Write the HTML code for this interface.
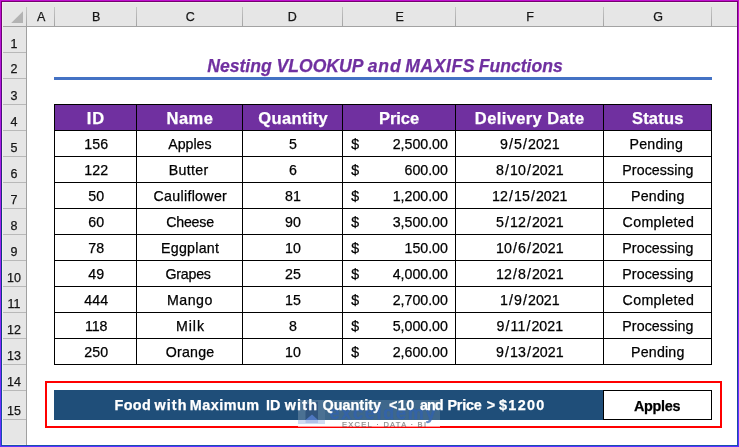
<!DOCTYPE html>
<html lang="en"><head><meta charset="utf-8"><title>Nesting VLOOKUP and MAXIFS Functions</title>
<style>
html,body{margin:0;padding:0;background:#fff;}
body{position:relative;width:739px;height:447px;overflow:hidden;font-family:"Liberation Sans", sans-serif;}
body>div,body>svg{position:absolute;box-sizing:border-box;}
.t{white-space:nowrap;line-height:20px;-webkit-text-stroke:0.25px currentColor;}
.sl{padding:0 1.1px;}
</style></head><body>
<div style="left:2px;top:2px;width:735px;height:24px;background:#e6e6e6;"></div>
<div style="left:2px;top:27px;width:24px;height:418px;background:#e6e6e6;"></div>
<div style="left:2px;top:26px;width:735px;height:1px;background:#a3a3a3;"></div>
<div style="left:26px;top:27px;width:1px;height:418px;background:#a0a0a0;"></div>
<div style="left:26px;top:7px;width:1px;height:19px;background:linear-gradient(to bottom,#c6c6c6,#a4a4a4);"></div>
<div style="left:54px;top:7px;width:1px;height:19px;background:linear-gradient(to bottom,#c6c6c6,#a4a4a4);"></div>
<div style="left:136px;top:7px;width:1px;height:19px;background:linear-gradient(to bottom,#c6c6c6,#a4a4a4);"></div>
<div style="left:242px;top:7px;width:1px;height:19px;background:linear-gradient(to bottom,#c6c6c6,#a4a4a4);"></div>
<div style="left:342px;top:7px;width:1px;height:19px;background:linear-gradient(to bottom,#c6c6c6,#a4a4a4);"></div>
<div style="left:455px;top:7px;width:1px;height:19px;background:linear-gradient(to bottom,#c6c6c6,#a4a4a4);"></div>
<div style="left:603px;top:7px;width:1px;height:19px;background:linear-gradient(to bottom,#c6c6c6,#a4a4a4);"></div>
<div style="left:711px;top:7px;width:1px;height:19px;background:linear-gradient(to bottom,#c6c6c6,#a4a4a4);"></div>
<div style="left:2px;top:52px;width:24px;height:1px;background:#b8b8b8;"></div>
<div style="left:2px;top:78px;width:24px;height:1px;background:#b8b8b8;"></div>
<div style="left:2px;top:104px;width:24px;height:1px;background:#b8b8b8;"></div>
<div style="left:2px;top:130px;width:24px;height:1px;background:#b8b8b8;"></div>
<div style="left:2px;top:156px;width:24px;height:1px;background:#b8b8b8;"></div>
<div style="left:2px;top:182px;width:24px;height:1px;background:#b8b8b8;"></div>
<div style="left:2px;top:208px;width:24px;height:1px;background:#b8b8b8;"></div>
<div style="left:2px;top:234px;width:24px;height:1px;background:#b8b8b8;"></div>
<div style="left:2px;top:260px;width:24px;height:1px;background:#b8b8b8;"></div>
<div style="left:2px;top:286px;width:24px;height:1px;background:#b8b8b8;"></div>
<div style="left:2px;top:312px;width:24px;height:1px;background:#b8b8b8;"></div>
<div style="left:2px;top:338px;width:24px;height:1px;background:#b8b8b8;"></div>
<div style="left:2px;top:364px;width:24px;height:1px;background:#b8b8b8;"></div>
<div style="left:2px;top:390px;width:24px;height:1px;background:#b8b8b8;"></div>
<div style="left:2px;top:419px;width:24px;height:1px;background:#b8b8b8;"></div>
<div style="left:2px;top:2px;width:735px;height:1px;background:#eef3ee;"></div>
<div style="left:2px;top:2px;width:1px;height:443px;background:#f0f1ec;"></div>
<div style="left:2px;top:444px;width:24px;height:1px;background:#f3f0ea;"></div>
<svg style="left:11px;top:11px" width="12" height="12" viewBox="0 0 12 12"><path d="M12 0.2 L12 12 L0.2 12 Z" fill="#b3b3b3"/></svg>
<div class="t" style="top:7.00px;font-size:12.5px;color:#161616;left:-258.80px;width:600px;text-align:center;">A</div>
<div class="t" style="top:7.00px;font-size:12.5px;color:#161616;left:-203.80px;width:600px;text-align:center;">B</div>
<div class="t" style="top:7.00px;font-size:12.5px;color:#161616;left:-109.80px;width:600px;text-align:center;">C</div>
<div class="t" style="top:7.00px;font-size:12.5px;color:#161616;left:-7.70px;width:600px;text-align:center;">D</div>
<div class="t" style="top:7.00px;font-size:12.5px;color:#161616;left:99.70px;width:600px;text-align:center;">E</div>
<div class="t" style="top:7.00px;font-size:12.5px;color:#161616;left:230.20px;width:600px;text-align:center;">F</div>
<div class="t" style="top:7.00px;font-size:12.5px;color:#161616;left:358.20px;width:600px;text-align:center;">G</div>
<div class="t" style="top:34.00px;font-size:12.5px;color:#161616;left:-286.00px;width:600px;text-align:center;">1</div>
<div class="t" style="top:59.00px;font-size:12.5px;color:#161616;left:-286.00px;width:600px;text-align:center;">2</div>
<div class="t" style="top:86.00px;font-size:12.5px;color:#161616;left:-286.00px;width:600px;text-align:center;">3</div>
<div class="t" style="top:112.00px;font-size:12.5px;color:#161616;left:-286.00px;width:600px;text-align:center;">4</div>
<div class="t" style="top:138.00px;font-size:12.5px;color:#161616;left:-286.00px;width:600px;text-align:center;">5</div>
<div class="t" style="top:164.00px;font-size:12.5px;color:#161616;left:-286.00px;width:600px;text-align:center;">6</div>
<div class="t" style="top:190.00px;font-size:12.5px;color:#161616;left:-286.00px;width:600px;text-align:center;">7</div>
<div class="t" style="top:216.00px;font-size:12.5px;color:#161616;left:-286.00px;width:600px;text-align:center;">8</div>
<div class="t" style="top:242.00px;font-size:12.5px;color:#161616;left:-286.00px;width:600px;text-align:center;">9</div>
<div class="t" style="top:268.00px;font-size:12.5px;color:#161616;left:-286.00px;width:600px;text-align:center;">10</div>
<div class="t" style="top:294.00px;font-size:12.5px;color:#161616;left:-286.00px;width:600px;text-align:center;">11</div>
<div class="t" style="top:320.00px;font-size:12.5px;color:#161616;left:-286.00px;width:600px;text-align:center;">12</div>
<div class="t" style="top:346.00px;font-size:12.5px;color:#161616;left:-286.00px;width:600px;text-align:center;">13</div>
<div class="t" style="top:372.00px;font-size:12.5px;color:#161616;left:-286.00px;width:600px;text-align:center;">14</div>
<div class="t" style="top:401.00px;font-size:12.5px;color:#161616;left:-286.00px;width:600px;text-align:center;">15</div>
<div class="t" style="top:55.60px;left:207.00px;font-size:17.6px;color:#7030a0;font-weight:bold;font-style:italic;"><span style="margin-left:0.20px;">Nesting</span> <span style="margin-left:-0.10px;">VLOOKUP</span> <span style="margin-left:-0.10px;letter-spacing:0.90px;">and</span> <span style="margin-left:-1.30px;letter-spacing:0.56px;">MAXIFS</span> <span style="margin-left:-1.26px;">Functions</span></div>
<div style="left:54px;top:77px;width:658px;height:3px;background:#4472c4;"></div>
<div style="left:54px;top:104px;width:658px;height:261px;background:#000;"></div>
<div style="left:55px;top:105px;width:81px;height:25px;background:#7030a0;"></div>
<div style="left:137px;top:105px;width:105px;height:25px;background:#7030a0;"></div>
<div style="left:243px;top:105px;width:99px;height:25px;background:#7030a0;"></div>
<div style="left:343px;top:105px;width:112px;height:25px;background:#7030a0;"></div>
<div style="left:456px;top:105px;width:147px;height:25px;background:#7030a0;"></div>
<div style="left:604px;top:105px;width:107px;height:25px;background:#7030a0;"></div>
<div style="left:55px;top:131px;width:81px;height:25px;background:#fff;"></div>
<div style="left:137px;top:131px;width:105px;height:25px;background:#fff;"></div>
<div style="left:243px;top:131px;width:99px;height:25px;background:#fff;"></div>
<div style="left:343px;top:131px;width:112px;height:25px;background:#fff;"></div>
<div style="left:456px;top:131px;width:147px;height:25px;background:#fff;"></div>
<div style="left:604px;top:131px;width:107px;height:25px;background:#fff;"></div>
<div style="left:55px;top:157px;width:81px;height:25px;background:#fff;"></div>
<div style="left:137px;top:157px;width:105px;height:25px;background:#fff;"></div>
<div style="left:243px;top:157px;width:99px;height:25px;background:#fff;"></div>
<div style="left:343px;top:157px;width:112px;height:25px;background:#fff;"></div>
<div style="left:456px;top:157px;width:147px;height:25px;background:#fff;"></div>
<div style="left:604px;top:157px;width:107px;height:25px;background:#fff;"></div>
<div style="left:55px;top:183px;width:81px;height:25px;background:#fff;"></div>
<div style="left:137px;top:183px;width:105px;height:25px;background:#fff;"></div>
<div style="left:243px;top:183px;width:99px;height:25px;background:#fff;"></div>
<div style="left:343px;top:183px;width:112px;height:25px;background:#fff;"></div>
<div style="left:456px;top:183px;width:147px;height:25px;background:#fff;"></div>
<div style="left:604px;top:183px;width:107px;height:25px;background:#fff;"></div>
<div style="left:55px;top:209px;width:81px;height:25px;background:#fff;"></div>
<div style="left:137px;top:209px;width:105px;height:25px;background:#fff;"></div>
<div style="left:243px;top:209px;width:99px;height:25px;background:#fff;"></div>
<div style="left:343px;top:209px;width:112px;height:25px;background:#fff;"></div>
<div style="left:456px;top:209px;width:147px;height:25px;background:#fff;"></div>
<div style="left:604px;top:209px;width:107px;height:25px;background:#fff;"></div>
<div style="left:55px;top:235px;width:81px;height:25px;background:#fff;"></div>
<div style="left:137px;top:235px;width:105px;height:25px;background:#fff;"></div>
<div style="left:243px;top:235px;width:99px;height:25px;background:#fff;"></div>
<div style="left:343px;top:235px;width:112px;height:25px;background:#fff;"></div>
<div style="left:456px;top:235px;width:147px;height:25px;background:#fff;"></div>
<div style="left:604px;top:235px;width:107px;height:25px;background:#fff;"></div>
<div style="left:55px;top:261px;width:81px;height:25px;background:#fff;"></div>
<div style="left:137px;top:261px;width:105px;height:25px;background:#fff;"></div>
<div style="left:243px;top:261px;width:99px;height:25px;background:#fff;"></div>
<div style="left:343px;top:261px;width:112px;height:25px;background:#fff;"></div>
<div style="left:456px;top:261px;width:147px;height:25px;background:#fff;"></div>
<div style="left:604px;top:261px;width:107px;height:25px;background:#fff;"></div>
<div style="left:55px;top:287px;width:81px;height:25px;background:#fff;"></div>
<div style="left:137px;top:287px;width:105px;height:25px;background:#fff;"></div>
<div style="left:243px;top:287px;width:99px;height:25px;background:#fff;"></div>
<div style="left:343px;top:287px;width:112px;height:25px;background:#fff;"></div>
<div style="left:456px;top:287px;width:147px;height:25px;background:#fff;"></div>
<div style="left:604px;top:287px;width:107px;height:25px;background:#fff;"></div>
<div style="left:55px;top:313px;width:81px;height:25px;background:#fff;"></div>
<div style="left:137px;top:313px;width:105px;height:25px;background:#fff;"></div>
<div style="left:243px;top:313px;width:99px;height:25px;background:#fff;"></div>
<div style="left:343px;top:313px;width:112px;height:25px;background:#fff;"></div>
<div style="left:456px;top:313px;width:147px;height:25px;background:#fff;"></div>
<div style="left:604px;top:313px;width:107px;height:25px;background:#fff;"></div>
<div style="left:55px;top:339px;width:81px;height:25px;background:#fff;"></div>
<div style="left:137px;top:339px;width:105px;height:25px;background:#fff;"></div>
<div style="left:243px;top:339px;width:99px;height:25px;background:#fff;"></div>
<div style="left:343px;top:339px;width:112px;height:25px;background:#fff;"></div>
<div style="left:456px;top:339px;width:147px;height:25px;background:#fff;"></div>
<div style="left:604px;top:339px;width:107px;height:25px;background:#fff;"></div>
<div class="t" style="top:108.00px;font-size:16.5px;color:#fff;font-weight:bold;letter-spacing:0.9px;left:-204.10px;width:600px;text-align:center;">ID</div>
<div class="t" style="top:108.00px;font-size:16.5px;color:#fff;font-weight:bold;letter-spacing:0.45px;left:-110.10px;width:600px;text-align:center;">Name</div>
<div class="t" style="top:108.00px;font-size:16.5px;color:#fff;font-weight:bold;letter-spacing:0.38px;left:-6.80px;width:600px;text-align:center;">Quantity</div>
<div class="t" style="top:108.00px;font-size:16.5px;color:#fff;font-weight:bold;letter-spacing:-0.05px;left:99.00px;width:600px;text-align:center;">Price</div>
<div class="t" style="top:108.00px;font-size:16.5px;color:#fff;font-weight:bold;letter-spacing:0.39px;left:229.70px;width:600px;text-align:center;">Delivery Date</div>
<div class="t" style="top:108.00px;font-size:16.5px;color:#fff;font-weight:bold;letter-spacing:0.2px;left:357.80px;width:600px;text-align:center;">Status</div>
<div class="t" style="top:134.00px;font-size:14.2px;color:#000;left:-203.80px;width:600px;text-align:center;">156</div>
<div class="t" style="top:134.00px;font-size:14.2px;color:#000;left:-110.10px;width:600px;text-align:center;">Apples</div>
<div class="t" style="top:134.00px;font-size:14.2px;color:#000;left:-7.00px;width:600px;text-align:center;">5</div>
<div class="t" style="top:134.00px;font-size:14.2px;color:#000;left:351.30px;text-align:left;">$</div>
<div class="t" style="top:134.00px;font-size:14.2px;color:#000;right:291.10px;text-align:right;">2,500.00</div>
<div class="t" style="top:134.00px;font-size:14.2px;color:#000;left:229.80px;width:600px;text-align:center;">9<span class="sl">/</span>5<span class="sl">/</span>2021</div>
<div class="t" style="top:134.00px;font-size:14.2px;color:#000;letter-spacing:0.2px;left:356.30px;width:600px;text-align:center;">Pending</div>
<div class="t" style="top:160.00px;font-size:14.2px;color:#000;left:-203.80px;width:600px;text-align:center;">122</div>
<div class="t" style="top:160.00px;font-size:14.2px;color:#000;letter-spacing:0.34px;left:-111.40px;width:600px;text-align:center;">Butter</div>
<div class="t" style="top:160.00px;font-size:14.2px;color:#000;left:-7.00px;width:600px;text-align:center;">6</div>
<div class="t" style="top:160.00px;font-size:14.2px;color:#000;left:351.30px;text-align:left;">$</div>
<div class="t" style="top:160.00px;font-size:14.2px;color:#000;right:291.10px;text-align:right;">600.00</div>
<div class="t" style="top:160.00px;font-size:14.2px;color:#000;left:229.80px;width:600px;text-align:center;">8<span class="sl">/</span>10<span class="sl">/</span>2021</div>
<div class="t" style="top:160.00px;font-size:14.2px;color:#000;letter-spacing:0.1px;left:357.90px;width:600px;text-align:center;">Processing</div>
<div class="t" style="top:186.00px;font-size:14.2px;color:#000;left:-203.80px;width:600px;text-align:center;">50</div>
<div class="t" style="top:186.00px;font-size:14.2px;color:#000;letter-spacing:0.32px;left:-109.70px;width:600px;text-align:center;">Cauliflower</div>
<div class="t" style="top:186.00px;font-size:14.2px;color:#000;left:-7.00px;width:600px;text-align:center;">81</div>
<div class="t" style="top:186.00px;font-size:14.2px;color:#000;left:351.30px;text-align:left;">$</div>
<div class="t" style="top:186.00px;font-size:14.2px;color:#000;right:291.10px;text-align:right;">1,200.00</div>
<div class="t" style="top:186.00px;font-size:14.2px;color:#000;left:229.80px;width:600px;text-align:center;">12<span class="sl">/</span>15<span class="sl">/</span>2021</div>
<div class="t" style="top:186.00px;font-size:14.2px;color:#000;letter-spacing:0.2px;left:357.80px;width:600px;text-align:center;">Pending</div>
<div class="t" style="top:212.00px;font-size:14.2px;color:#000;left:-203.80px;width:600px;text-align:center;">60</div>
<div class="t" style="top:212.00px;font-size:14.2px;color:#000;letter-spacing:-0.2px;left:-110.00px;width:600px;text-align:center;">Cheese</div>
<div class="t" style="top:212.00px;font-size:14.2px;color:#000;left:-7.00px;width:600px;text-align:center;">90</div>
<div class="t" style="top:212.00px;font-size:14.2px;color:#000;left:351.30px;text-align:left;">$</div>
<div class="t" style="top:212.00px;font-size:14.2px;color:#000;right:291.10px;text-align:right;">3,500.00</div>
<div class="t" style="top:212.00px;font-size:14.2px;color:#000;left:229.80px;width:600px;text-align:center;">5<span class="sl">/</span>12<span class="sl">/</span>2021</div>
<div class="t" style="top:212.00px;font-size:14.2px;color:#000;letter-spacing:0.33px;left:358.40px;width:600px;text-align:center;">Completed</div>
<div class="t" style="top:238.00px;font-size:14.2px;color:#000;left:-203.80px;width:600px;text-align:center;">78</div>
<div class="t" style="top:238.00px;font-size:14.2px;color:#000;letter-spacing:0.27px;left:-109.90px;width:600px;text-align:center;">Eggplant</div>
<div class="t" style="top:238.00px;font-size:14.2px;color:#000;left:-7.00px;width:600px;text-align:center;">10</div>
<div class="t" style="top:238.00px;font-size:14.2px;color:#000;left:351.30px;text-align:left;">$</div>
<div class="t" style="top:238.00px;font-size:14.2px;color:#000;right:291.10px;text-align:right;">150.00</div>
<div class="t" style="top:238.00px;font-size:14.2px;color:#000;left:229.80px;width:600px;text-align:center;">10<span class="sl">/</span>6<span class="sl">/</span>2021</div>
<div class="t" style="top:238.00px;font-size:14.2px;color:#000;letter-spacing:0.1px;left:357.90px;width:600px;text-align:center;">Processing</div>
<div class="t" style="top:264.00px;font-size:14.2px;color:#000;left:-203.80px;width:600px;text-align:center;">49</div>
<div class="t" style="top:264.00px;font-size:14.2px;color:#000;letter-spacing:-0.2px;left:-111.90px;width:600px;text-align:center;">Grapes</div>
<div class="t" style="top:264.00px;font-size:14.2px;color:#000;left:-7.00px;width:600px;text-align:center;">25</div>
<div class="t" style="top:264.00px;font-size:14.2px;color:#000;left:351.30px;text-align:left;">$</div>
<div class="t" style="top:264.00px;font-size:14.2px;color:#000;right:291.10px;text-align:right;">4,000.00</div>
<div class="t" style="top:264.00px;font-size:14.2px;color:#000;left:229.80px;width:600px;text-align:center;">12<span class="sl">/</span>8<span class="sl">/</span>2021</div>
<div class="t" style="top:264.00px;font-size:14.2px;color:#000;letter-spacing:0.1px;left:357.90px;width:600px;text-align:center;">Processing</div>
<div class="t" style="top:290.00px;font-size:14.2px;color:#000;left:-203.80px;width:600px;text-align:center;">444</div>
<div class="t" style="top:290.00px;font-size:14.2px;color:#000;letter-spacing:0.5px;left:-110.10px;width:600px;text-align:center;">Mango</div>
<div class="t" style="top:290.00px;font-size:14.2px;color:#000;left:-7.00px;width:600px;text-align:center;">15</div>
<div class="t" style="top:290.00px;font-size:14.2px;color:#000;left:351.30px;text-align:left;">$</div>
<div class="t" style="top:290.00px;font-size:14.2px;color:#000;right:291.10px;text-align:right;">2,700.00</div>
<div class="t" style="top:290.00px;font-size:14.2px;color:#000;left:229.80px;width:600px;text-align:center;">1<span class="sl">/</span>9<span class="sl">/</span>2021</div>
<div class="t" style="top:290.00px;font-size:14.2px;color:#000;letter-spacing:0.33px;left:358.40px;width:600px;text-align:center;">Completed</div>
<div class="t" style="top:316.00px;font-size:14.2px;color:#000;left:-203.80px;width:600px;text-align:center;">118</div>
<div class="t" style="top:316.00px;font-size:14.2px;color:#000;letter-spacing:0.9px;left:-109.50px;width:600px;text-align:center;">Milk</div>
<div class="t" style="top:316.00px;font-size:14.2px;color:#000;left:-7.00px;width:600px;text-align:center;">8</div>
<div class="t" style="top:316.00px;font-size:14.2px;color:#000;left:351.30px;text-align:left;">$</div>
<div class="t" style="top:316.00px;font-size:14.2px;color:#000;right:291.10px;text-align:right;">5,000.00</div>
<div class="t" style="top:316.00px;font-size:14.2px;color:#000;left:229.80px;width:600px;text-align:center;">9<span class="sl">/</span>11<span class="sl">/</span>2021</div>
<div class="t" style="top:316.00px;font-size:14.2px;color:#000;letter-spacing:0.1px;left:357.90px;width:600px;text-align:center;">Processing</div>
<div class="t" style="top:342.00px;font-size:14.2px;color:#000;left:-203.80px;width:600px;text-align:center;">250</div>
<div class="t" style="top:342.00px;font-size:14.2px;color:#000;letter-spacing:0.24px;left:-109.90px;width:600px;text-align:center;">Orange</div>
<div class="t" style="top:342.00px;font-size:14.2px;color:#000;left:-7.00px;width:600px;text-align:center;">10</div>
<div class="t" style="top:342.00px;font-size:14.2px;color:#000;left:351.30px;text-align:left;">$</div>
<div class="t" style="top:342.00px;font-size:14.2px;color:#000;right:291.10px;text-align:right;">2,600.00</div>
<div class="t" style="top:342.00px;font-size:14.2px;color:#000;left:229.80px;width:600px;text-align:center;">9<span class="sl">/</span>13<span class="sl">/</span>2021</div>
<div class="t" style="top:342.00px;font-size:14.2px;color:#000;letter-spacing:0.2px;left:357.80px;width:600px;text-align:center;">Pending</div>
<div style="left:54px;top:390px;width:549px;height:30px;background:#1f4e79;"></div>
<div style="left:603px;top:390px;width:109px;height:30px;background:#000;"></div>
<div style="left:604px;top:391px;width:107px;height:28px;background:#fff;"></div>
<div style="left:45px;top:381px;width:677px;height:47px;border:2px solid #ff0000"></div>
<div style="left:298px;top:400px;width:142px;height:20px;background:rgba(255,255,255,0.14)"></div>
<div style="left:298px;top:420px;width:142px;height:7px;background:rgba(255,255,255,0.6)"></div>
<svg style="left:298px;top:400px" width="28" height="26" viewBox="0 0 28 26"><rect x="0" y="0" width="27" height="20" fill="rgba(255,255,255,0.07)"/><rect x="0" y="20" width="27" height="4" fill="rgba(150,175,225,0.45)"/><path d="M7.5 4.5 L20 1.5 L20 20 L7.5 20 Z" fill="rgba(22,55,105,0.50)"/><path d="M7.5 20 L14 14.5 L20 20 Z" fill="rgba(60,110,200,0.75)"/><path d="M7.5 20 L14 14.5 L20 20 L20 23 L7.5 23 Z" fill="rgba(120,150,215,0.35)"/></svg>
<div class="t" style="left:329.5px;top:401.8px;font-size:18px;font-weight:bold;color:rgba(48,98,178,0.72);letter-spacing:1.75px;line-height:22px">exceldemy</div>
<div class="t" style="left:342px;top:420px;font-size:7.5px;color:rgba(70,70,70,0.5);letter-spacing:1.3px;line-height:9px">EXCEL · DATA · BI</div>
<div class="t" style="top:395.00px;left:115.00px;font-size:14.4px;color:#fff;font-weight:bold;"><span style="margin-left:-0.50px;letter-spacing:0.37px;">Food</span> <span style="margin-left:-0.77px;letter-spacing:1.10px;">with</span> <span style="margin-left:-1.80px;letter-spacing:0.48px;">Maximum</span> <span style="margin-left:2.42px;">ID</span> <span style="margin-left:0.30px;letter-spacing:1.23px;">with</span> <span style="margin-left:0.27px;">Quantity</span> <span style="margin-left:4.10px;letter-spacing:0.40px;">&lt;10</span> <span style="margin-left:1.20px;letter-spacing:-1.00px;">and</span> <span style="margin-left:1.00px;letter-spacing:-0.23px;">Price</span> <span style="margin-left:1.23px;">&gt;</span> <span style="margin-left:-0.10px;letter-spacing:1.30px;">$1200</span></div>
<div class="t" style="top:396.00px;font-size:14.4px;color:#000;font-weight:bold;letter-spacing:-0.3px;left:357.00px;width:600px;text-align:center;">Apples</div>
<div style="left:1px;top:1px;width:1px;height:445px;background:linear-gradient(to bottom,#780070 0%,#4a107a 24%,#103878 50%,#103c80 75%,#1850b0 100%);"></div>
<div style="left:737px;top:1px;width:1px;height:445px;background:linear-gradient(to bottom,#780070 0%,#4a107a 24%,#103878 50%,#103c80 75%,#1850b0 100%);"></div>
<div style="left:1px;top:1px;width:737px;height:1px;background:#780070;"></div>
<div style="left:1px;top:445px;width:737px;height:1px;background:#1850b0;"></div>
<div style="left:0px;top:0px;width:1px;height:447px;background:linear-gradient(to bottom,#c010d0 0%,#b018e0 24%,#a020f0 50%,#8828ff 75%,#6030ff 100%);"></div>
<div style="left:738px;top:0px;width:1px;height:447px;background:linear-gradient(to bottom,#c010d0 0%,#b018e0 24%,#a020f0 50%,#8828ff 75%,#6030ff 100%);"></div>
<div style="left:0px;top:0px;width:739px;height:1px;background:#c010d0;"></div>
<div style="left:0px;top:446px;width:739px;height:1px;background:#6030ff;"></div>
</body></html>
